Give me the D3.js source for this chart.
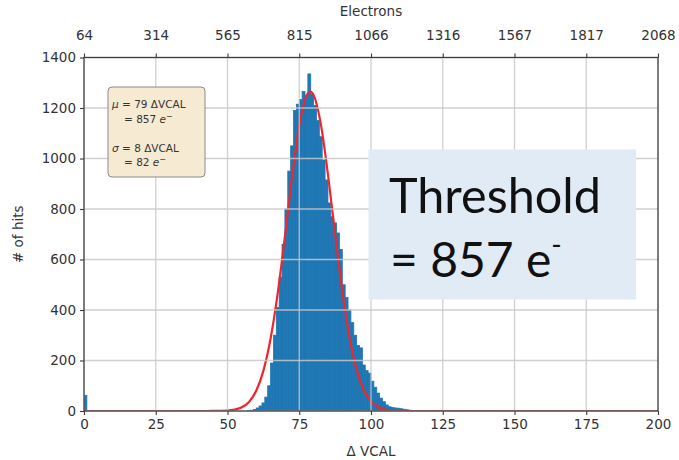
<!DOCTYPE html>
<html>
<head>
<meta charset="utf-8">
<script src="https://cdn.jsdelivr.net/npm/d3@7"></script>
<style>
  html, body { margin: 0; padding: 0; background: #fff; }
  svg { display: block; }
</style>
</head>
<body>
<svg id="chart" width="679" height="460"></svg>
<script>
// ---------- data ----------
const xTicks = [0, 25, 50, 75, 100, 125, 150, 175, 200];
const topTickLabels = ["64", "314", "565", "815", "1066", "1316", "1567", "1817", "2068"];
const yTicks = [0, 200, 400, 600, 800, 1000, 1200, 1400];

// histogram: left edge of each 1-ΔVCAL bin and its count
const binStarts = [0,
  57, 58, 59, 60, 61, 62, 63, 64, 65, 66, 67, 68, 69, 70, 71, 72, 73, 74, 75, 76, 77, 78, 79,
  80, 81, 82, 83, 84, 85, 86, 87, 88, 89, 90, 91, 92, 93, 94, 95, 96, 97, 98, 99, 100, 101,
  102, 103, 104, 105, 106, 107, 108, 109, 110, 111, 112, 113, 114];
const binCounts = [62,
  1, 3, 6, 12, 20, 32, 55, 100, 190, 300, 410, 530, 660, 800, 950, 1050, 1190, 1215, 1234, 1265, 1250, 1335, 1255,
  1210, 1150, 1086, 994, 915, 824, 769, 745, 705, 640, 500, 450, 400, 350, 300, 260, 250, 182, 160, 150, 118, 94,
  71, 51, 37, 24, 17, 14, 12, 11, 9, 7, 5, 3, 1];

// fitted curve, points
const fitX = [0, 40, 45, 50, 52.5, 55, 57.5, 60, 62.5, 65, 67.5, 70, 72.5, 75, 77.5, 78.8, 80, 82.5, 85, 87.5, 90, 92.5, 95, 97.5, 100, 102.5, 105, 107.5, 110, 115, 200];
const fitY = [0, 0, 0.2, 2, 6, 15, 36, 80, 159, 286, 467, 691, 928, 1130, 1248, 1265, 1251, 1137, 937, 700, 475, 292, 163, 82, 38, 16, 6, 2, 0.6, 0, 0];

const statLines = [
  {a: "μ", b: " = 79 ΔVCAL", indent: 0},
  {a: "", b: "= 857 ", e: true, indent: 1},
  {a: "", b: "", indent: 0},
  {a: "σ", b: " = 8 ΔVCAL", indent: 0},
  {a: "", b: "= 82 ", e: true, indent: 1}
];

// ---------- layout ----------
const svg = d3.select("#chart");
const W = 679, H = 460;
const m = {left: 84, right: 679 - 658, top: 57.5, bottom: 460 - 411};
const pw = W - m.left - m.right, ph = H - m.top - m.bottom;

svg.append("rect").attr("width", W).attr("height", H).attr("fill", "#fff");

const x = d3.scaleLinear().domain([0, 200]).range([m.left, m.left + pw]);
const y = d3.scaleLinear().domain([0, 1400]).range([m.top + ph, m.top]);

svg.append("clipPath").attr("id", "clip")
  .append("rect").attr("x", m.left).attr("y", m.top).attr("width", pw).attr("height", ph);

const plot = svg.append("g").attr("clip-path", "url(#clip)");

// bars
plot.selectAll("rect.bar").data(binStarts.map((s, i) => ({s, c: binCounts[i]})))
  .join("rect").attr("class", "bar")
  .attr("x", d => x(d.s))
  .attr("width", d => x(d.s + 1) - x(d.s))
  .attr("y", d => y(d.c))
  .attr("height", d => y(0) - y(d.c))
  .attr("fill", "#1f77b4")
  .attr("stroke", "#1f77b4").attr("stroke-width", 0.8);

// grid
const grid = svg.append("g");
grid.selectAll("line.gx").data(xTicks).join("line")
  .attr("x1", d => x(d)).attr("x2", d => x(d)).attr("y1", m.top).attr("y2", m.top + ph)
  .attr("stroke", "#c8c8c8").attr("stroke-width", 1.3).attr("stroke-opacity", 0.85);
grid.selectAll("line.gy").data(yTicks).join("line")
  .attr("y1", d => y(d)).attr("y2", d => y(d)).attr("x1", m.left).attr("x2", m.left + pw)
  .attr("stroke", "#c8c8c8").attr("stroke-width", 1.3).attr("stroke-opacity", 0.85);

// frame
svg.append("rect").attr("x", m.left).attr("y", m.top).attr("width", pw).attr("height", ph)
  .attr("fill", "none").attr("stroke", "#3a3a3a").attr("stroke-width", 1.2);

// fit curve
const line = d3.line().x((d, i) => x(fitX[i])).y(d => y(d)).curve(d3.curveMonotoneX);
plot.append("path").datum(fitY).attr("d", line)
  .attr("fill", "none").attr("stroke", "#f0262c").attr("stroke-width", 2.2);

// axes
const fontFam = "DejaVu Sans, sans-serif";
const axB = svg.append("g").attr("transform", `translate(0,${m.top + ph})`)
  .call(d3.axisBottom(x).tickValues(xTicks).tickSize(4).tickPadding(4).tickFormat(d3.format("d")));
const axT = svg.append("g").attr("transform", `translate(0,${m.top})`)
  .call(d3.axisTop(x).tickValues(xTicks).tickSize(4).tickPadding(14).tickFormat((d, i) => topTickLabels[i]));
const axL = svg.append("g").attr("transform", `translate(${m.left},0)`)
  .call(d3.axisLeft(y).tickValues(yTicks).tickSize(4).tickPadding(4).tickFormat(d3.format("d")));
[axB, axT, axL].forEach(a => {
  a.select(".domain").remove();
  a.selectAll(".tick line").attr("stroke", "#3a3a3a").attr("stroke-width", 1.1);
  a.selectAll(".tick text").attr("fill", "#333").style("font-family", fontFam).style("font-size", "13.5px");
});

// axis titles
svg.append("text").attr("x", m.left + pw / 2).attr("y", 456).attr("text-anchor", "middle")
  .style("font-family", fontFam).style("font-size", "13.5px").attr("fill", "#333").text("Δ VCAL");
svg.append("text").attr("x", m.left + pw / 2).attr("y", 16).attr("text-anchor", "middle")
  .style("font-family", fontFam).style("font-size", "13.5px").attr("fill", "#333").text("Electrons");
svg.append("text").attr("transform", `translate(23,${m.top + ph / 2}) rotate(-90)`).attr("text-anchor", "middle")
  .style("font-family", fontFam).style("font-size", "13.5px").attr("fill", "#333").text("# of hits");

// stats box
const sb = svg.append("g");
sb.append("rect").attr("x", 108).attr("y", 87).attr("width", 97).attr("height", 90).attr("rx", 4)
  .attr("fill", "#f7ead2").attr("stroke", "#8a8a8a").attr("stroke-width", 1);
const st = sb.selectAll("text").data(statLines).join("text")
  .attr("x", d => 112 + d.indent * 12)
  .attr("y", (d, i) => 108 + i * 14.5)
  .style("font-family", fontFam).style("font-size", "10.5px").attr("fill", "#333");
st.append("tspan").style("font-style", "italic").text(d => d.a);
st.append("tspan").text(d => d.b);
st.filter(d => d.e).append("tspan").style("font-style", "italic").text("e");
st.filter(d => d.e).append("tspan").attr("dy", -4).style("font-size", "8px").text("−");

// threshold box
const tb = svg.append("g");
tb.append("rect").attr("x", 368.5).attr("y", 149.5).attr("width", 267.5).attr("height", 150)
  .attr("fill", "#e1ebf6");
tb.append("text").attr("x", 389).attr("y", 213)
  .style("font-family", "Lato, sans-serif").style("font-size", "48px").attr("fill", "#111")
  .attr("textLength", 212).attr("lengthAdjust", "spacingAndGlyphs")
  .text("Threshold");
const t2 = tb.append("text").attr("x", 390).attr("y", 277)
  .style("font-family", "Lato, sans-serif").style("font-size", "48px").attr("fill", "#111");
t2.append("tspan").text("= 857 e");
t2.append("tspan").attr("dy", -22).style("font-size", "28px").text("-");
</script>
</body>
</html>
